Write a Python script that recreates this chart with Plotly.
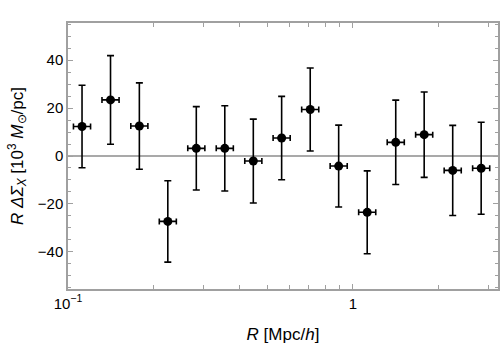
import plotly.graph_objects as go

# radial bins (Mpc/h) and signal (10^3 Msun/pc)
r = [0.112, 0.141, 0.178, 0.224, 0.282, 0.355, 0.447, 0.562,
     0.708, 0.891, 1.122, 1.413, 1.778, 2.239, 2.818]
signal = [12.3, 23.4, 12.5, -27.3, 3.2, 3.2, -2.1, 7.5,
          19.4, -4.2, -23.5, 5.7, 8.9, -6.0, -5.1]
signal_err = [17.2, 18.5, 18.0, 17.0, 17.4, 17.8, 17.5, 17.4,
              17.3, 17.1, 17.3, 17.6, 17.8, 18.8, 19.2]
r_err_hi = [0.0080, 0.0101, 0.0127, 0.0160, 0.0202, 0.0254, 0.0320, 0.0402,
            0.0506, 0.0637, 0.0802, 0.1010, 0.1271, 0.1601, 0.2015]
r_err_lo = [0.0075, 0.0094, 0.0119, 0.0149, 0.0188, 0.0237, 0.0298, 0.0375,
            0.0472, 0.0594, 0.0748, 0.0942, 0.1186, 0.1493, 0.1880]

xticks = [0.1, 1]
xticklabels = ["10<sup>\u22121</sup>", "1"]
xminor = [0.2, 0.3, 0.4, 0.5, 0.6, 0.7, 0.8, 0.9, 2, 3]
yticks = [-40, -20, 0, 20, 40]

frame = "#a0a0a0"

fig = go.Figure()

# zero line
fig.add_trace(go.Scatter(x=[0.05, 5], y=[0, 0], mode="lines",
                         line=dict(color="#8c8c8c", width=1.6),
                         hoverinfo="skip", showlegend=False))

fig.add_trace(go.Scatter(
    x=r, y=signal, mode="markers",
    marker=dict(color="black", size=9),
    error_y=dict(type="data", array=signal_err, color="black",
                 thickness=1.6, width=3.5),
    error_x=dict(type="data", array=r_err_hi, arrayminus=r_err_lo,
                 color="black", thickness=1.6, width=3),
    showlegend=False))

fig.update_layout(
    width=500, height=346,
    margin=dict(l=68, r=2, t=23, b=57),
    plot_bgcolor="white", paper_bgcolor="white",
    font=dict(family="Liberation Sans, Arial", size=15, color="black"),
)

fig.update_xaxes(
    type="log", range=[-1, 0.509], automargin=False,
    tickvals=xticks, ticktext=xticklabels,
    ticks="inside", ticklen=5, tickcolor=frame, tickwidth=1,
    minor=dict(tickvals=xminor, ticks="inside", ticklen=4, tickcolor=frame),
    showline=True, linecolor=frame, linewidth=1.5, mirror="ticks",
    showgrid=False, zeroline=False,
    title=dict(text="<i>R</i> [Mpc/<i>h</i>]", font=dict(size=17), standoff=17),
)

fig.update_yaxes(
    range=[-55.5, 55.5], automargin=False,
    tickvals=yticks,
    ticks="inside", ticklen=5, tickcolor=frame, tickwidth=1,
    minor=dict(dtick=5, tick0=0, ticks="inside", ticklen=3, tickcolor=frame),
    showline=True, linecolor=frame, linewidth=1.5, mirror="ticks",
    showgrid=False, zeroline=False,
    title=dict(text="<i>R</i> <i>\u0394\u03a3</i><sub><i>X</i></sub> [10<sup>3</sup> <i>M</i><sub>\u2299</sub>/pc]",
               font=dict(size=17), standoff=10),
)

fig.write_html("out.html", config={"displayModeBar": False},
               post_script="document.body.style.margin='0';")
